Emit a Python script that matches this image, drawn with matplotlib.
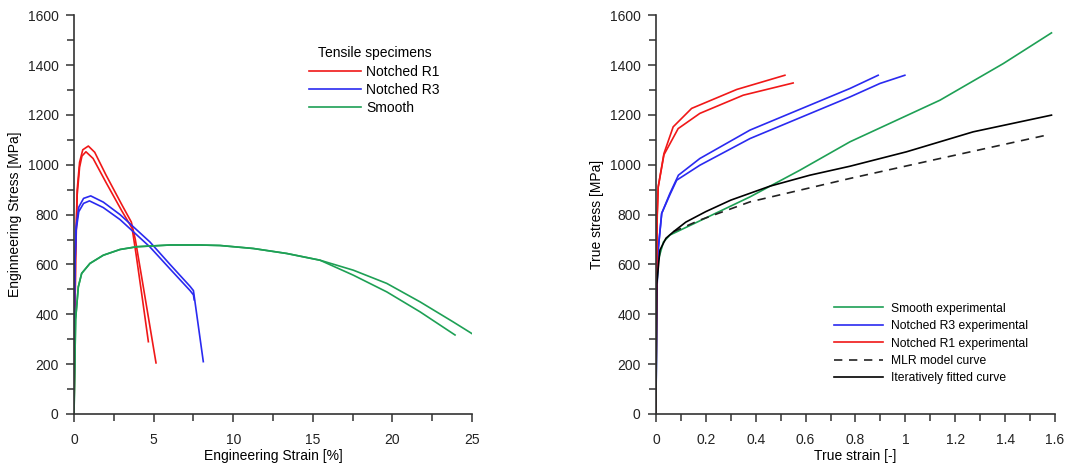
import matplotlib
matplotlib.use("Agg")
import matplotlib.pyplot as plt
from matplotlib.ticker import MultipleLocator, FormatStrFormatter

plt.rcParams['font.family'] = ['Liberation Sans', 'DejaVu Sans']

# engineering curves (strain %, stress MPa)
r1a_x = [0, 0.05, 0.1, 0.2, 0.35, 0.55, 0.9, 1.3, 2.0, 3.0, 3.6, 3.85, 4.3, 5.15]
r1a_y = [0, 350, 650, 900, 1010, 1060, 1075, 1050, 960, 840, 770, 700, 530, 205]
r1b_x = [0, 0.05, 0.1, 0.2, 0.35, 0.5, 0.75, 1.2, 2.0, 3.0, 3.65, 3.9, 4.3, 4.67]
r1b_y = [0, 330, 620, 880, 990, 1035, 1052, 1025, 930, 815, 745, 640, 460, 290]
r3a_x = [0, 0.03, 0.06, 0.13, 0.3, 0.6, 1.05, 1.84, 2.89, 4.77, 6.03, 7.29, 7.5, 8.12]
r3a_y = [0, 450, 604, 751, 830, 865, 875, 850, 800, 690, 600, 512, 495, 210]
r3b_x = [0, 0.03, 0.06, 0.13, 0.3, 0.6, 0.97, 1.84, 2.89, 4.77, 6.03, 7.29, 7.5, 7.55]
r3b_y = [0, 440, 590, 735, 812, 845, 855, 828, 780, 670, 582, 495, 478, 458]
sm_x = [0, 0.1, 0.27, 0.48, 1.0, 1.84, 2.89, 3.94, 6.03, 7.9, 9.17, 11.26, 13.36, 15.45]
sm_y = [0, 380, 510, 564, 604, 637, 660, 671, 678, 678, 676, 664, 644, 617]
sm_a_x = [17.54, 19.64, 21.73, 23.8, 24.98]
sm_a_y = [577, 524, 450, 370, 323]
sm_b_x = [17.54, 19.64, 21.73, 23.93]
sm_b_y = [557, 490, 410, 317]

# true curves (strain -, stress MPa)
t_r1a_x = [0, 0.002, 0.005, 0.009, 0.032, 0.069, 0.143, 0.324, 0.517]
t_r1a_y = [0, 500, 800, 911, 1045, 1152, 1226, 1302, 1359]
t_r1b_x = [0, 0.002, 0.005, 0.009, 0.032, 0.089, 0.176, 0.35, 0.55]
t_r1b_y = [0, 500, 800, 911, 1040, 1145, 1206, 1279, 1328]
t_r3a_x = [0, 0.003, 0.008, 0.023, 0.056, 0.09, 0.176, 0.377, 0.778, 0.891]
t_r3a_y = [0, 450, 650, 805, 885, 958, 1025, 1139, 1306, 1359]
t_r3b_x = [0, 0.003, 0.008, 0.023, 0.056, 0.083, 0.176, 0.377, 0.778, 0.898, 0.998]
t_r3b_y = [0, 450, 650, 805, 880, 938, 998, 1105, 1272, 1326, 1359]
t_sm_x = [0, 0.003, 0.009, 0.03, 0.056, 0.176, 0.377, 0.577, 0.778, 1.139, 1.393, 1.586]
t_sm_y = [0, 500, 617, 690, 718, 775, 871, 978, 1092, 1259, 1406, 1529]
fit_x = [0, 0.003, 0.016, 0.04, 0.07, 0.12, 0.2, 0.3, 0.457, 0.617, 0.778, 1.005, 1.272, 1.586]
fit_y = [0, 520, 658, 705, 731, 770, 812, 858, 914, 958, 994, 1052, 1132, 1199]
mlr_x = [0.07, 0.176, 0.377, 0.778, 1.139, 1.567]
mlr_y = [731, 778, 851, 945, 1025, 1119]

red = '#f01818'
blue = '#2a2af0'
green = '#1ea055'

fig = plt.figure(figsize=(10.68, 4.67), dpi=100)
ax1 = fig.add_axes([0.0693, 0.1135, 0.3727, 0.854])
ax2 = fig.add_axes([0.6142, 0.1135, 0.3736, 0.854])

lw = 1.2
ax1.plot(r1a_x, r1a_y, color=red, lw=lw, label='Notched R1')
ax1.plot(r1b_x, r1b_y, color=red, lw=lw)
ax1.plot(r3a_x, r3a_y, color=blue, lw=lw, label='Notched R3')
ax1.plot(r3b_x, r3b_y, color=blue, lw=lw)
ax1.plot(sm_x + sm_a_x, sm_y + sm_a_y, color=green, lw=lw, label='Smooth')
ax1.plot(sm_x + sm_b_x, sm_y + sm_b_y, color=green, lw=lw)

ax2.plot(t_sm_x, t_sm_y, color=green, lw=lw, label='Smooth experimental')
ax2.plot(t_r3a_x, t_r3a_y, color=blue, lw=lw, label='Notched R3 experimental')
ax2.plot(t_r3b_x, t_r3b_y, color=blue, lw=lw)
ax2.plot(t_r1a_x, t_r1a_y, color=red, lw=lw, label='Notched R1 experimental')
ax2.plot(t_r1b_x, t_r1b_y, color=red, lw=lw)
ax2.plot(mlr_x, mlr_y, color='#222222', lw=lw, ls=(0, (5, 4)), label='MLR model curve')
ax2.plot(fit_x, fit_y, color='black', lw=lw, label='Iteratively fitted curve')

ax1.set_xlim(0, 25)
ax2.set_xlim(0, 1.6)
for ax in (ax1, ax2):
    ax.set_ylim(0, 1600)
    ax.spines['top'].set_visible(False)
    ax.spines['right'].set_visible(False)
    for s in ('left', 'bottom'):
        ax.spines[s].set_linewidth(1.2)
        ax.spines[s].set_color('#333333')
    ax.yaxis.set_major_locator(MultipleLocator(200))
    ax.yaxis.set_minor_locator(MultipleLocator(100))
    ax.tick_params(which='major', length=6, width=1.1, labelsize=10, colors='#333333', labelcolor='#222222')
    ax.tick_params(which='minor', length=5, width=1.1, colors='#333333')
    ax.tick_params(axis='x', pad=8)
    ax.tick_params(axis='y', pad=5)

ax1.xaxis.set_major_locator(MultipleLocator(5))
ax1.xaxis.set_minor_locator(MultipleLocator(2.5))
ax2.xaxis.set_major_locator(MultipleLocator(0.2))
ax2.xaxis.set_minor_locator(MultipleLocator(0.1))
ax2.xaxis.set_major_formatter(FormatStrFormatter('%g'))

ax1.set_xlabel('Engineering Strain [%]', fontsize=10, labelpad=1)
ax1.set_ylabel('Enginneering Stress [MPa]', fontsize=10, labelpad=4)
ax2.set_xlabel('True strain [-]', fontsize=10, labelpad=1)
ax2.set_ylabel('True stress [MPa]', fontsize=10, labelpad=4)

leg1 = ax1.legend(title='Tensile specimens', loc='upper left', bbox_to_anchor=(0.56, 0.953),
                  frameon=False, fontsize=10, title_fontsize=10, handlelength=3.7,
                  handletextpad=0.4, labelspacing=0.3)
leg2 = ax2.legend(loc='lower left', bbox_to_anchor=(0.42, 0.047), frameon=False,
                  fontsize=8.7, handlelength=4.0, handletextpad=0.7, labelspacing=0.45)

fig.savefig('out.png', dpi=100)
